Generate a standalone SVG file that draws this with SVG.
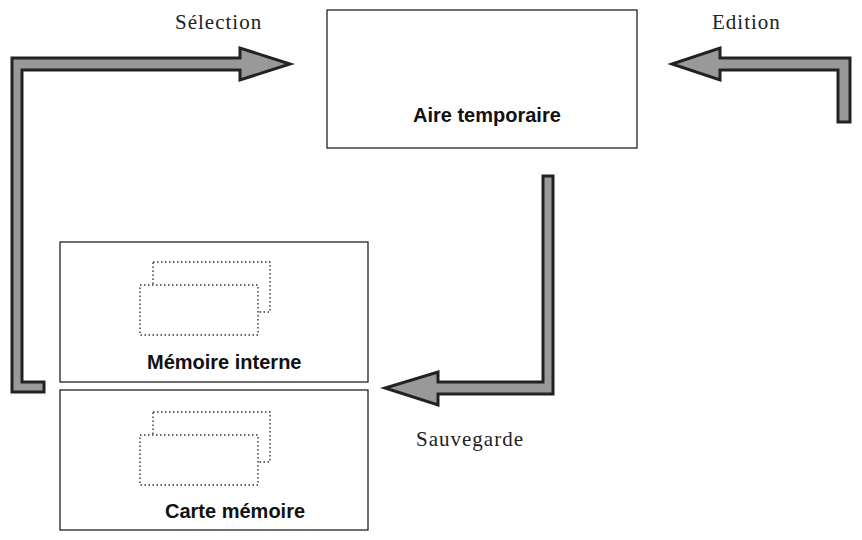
<svg xmlns="http://www.w3.org/2000/svg" width="862" height="540" viewBox="0 0 862 540">
<style>
.box{fill:#fff;stroke:#222;stroke-width:1.3}
.arr{fill:#999;stroke:#222;stroke-width:3;stroke-linejoin:miter}
.card{fill:#fff;stroke:#333;stroke-width:1.4;stroke-dasharray:1.5 2.5}
.lbl{font-family:"Liberation Sans",Arial,sans-serif;font-size:20px;font-weight:bold;fill:#111}
.cap{font-family:"Liberation Serif","Times New Roman",serif;font-size:21px;fill:#222;letter-spacing:1px}
</style>
<rect width="862" height="540" fill="#fff"/>
<g id="aire"><rect class="box" x="327" y="10" width="310" height="138"/><text class="lbl" x="413" y="122">Aire temporaire</text></g>
<g id="interne"><rect class="box" x="60" y="242" width="308" height="140"/>
<rect class="card" x="153" y="262" width="117" height="50"/><rect class="card" x="140" y="285" width="118" height="50"/>
<text class="lbl" x="147" y="369">Mémoire interne</text></g>
<g id="carte"><rect class="box" x="60" y="390" width="308" height="140"/>
<rect class="card" x="153" y="412" width="117" height="50"/><rect class="card" x="140" y="435" width="118" height="50"/>
<text class="lbl" x="165" y="518">Carte mémoire</text></g>
<g id="connectors">
<polygon class="arr" points="12,392 44,392 44,382 22,382 22,70 240,70 240,80 290,64 240,48 240,58 12,58"/>
<polygon class="arr" points="850,122 838,122 838,70 720,70 720,80 672,64 720,48 720,58 850,58"/>
<polygon class="arr" points="553,176 553,394 438,394 438,405 385,388 438,372 438,382 543,382 543,176"/>
</g>
<text class="cap" x="175" y="29">Sélection</text>
<text class="cap" x="712" y="29">Edition</text>
<text class="cap" x="416" y="446">Sauvegarde</text>
</svg>
